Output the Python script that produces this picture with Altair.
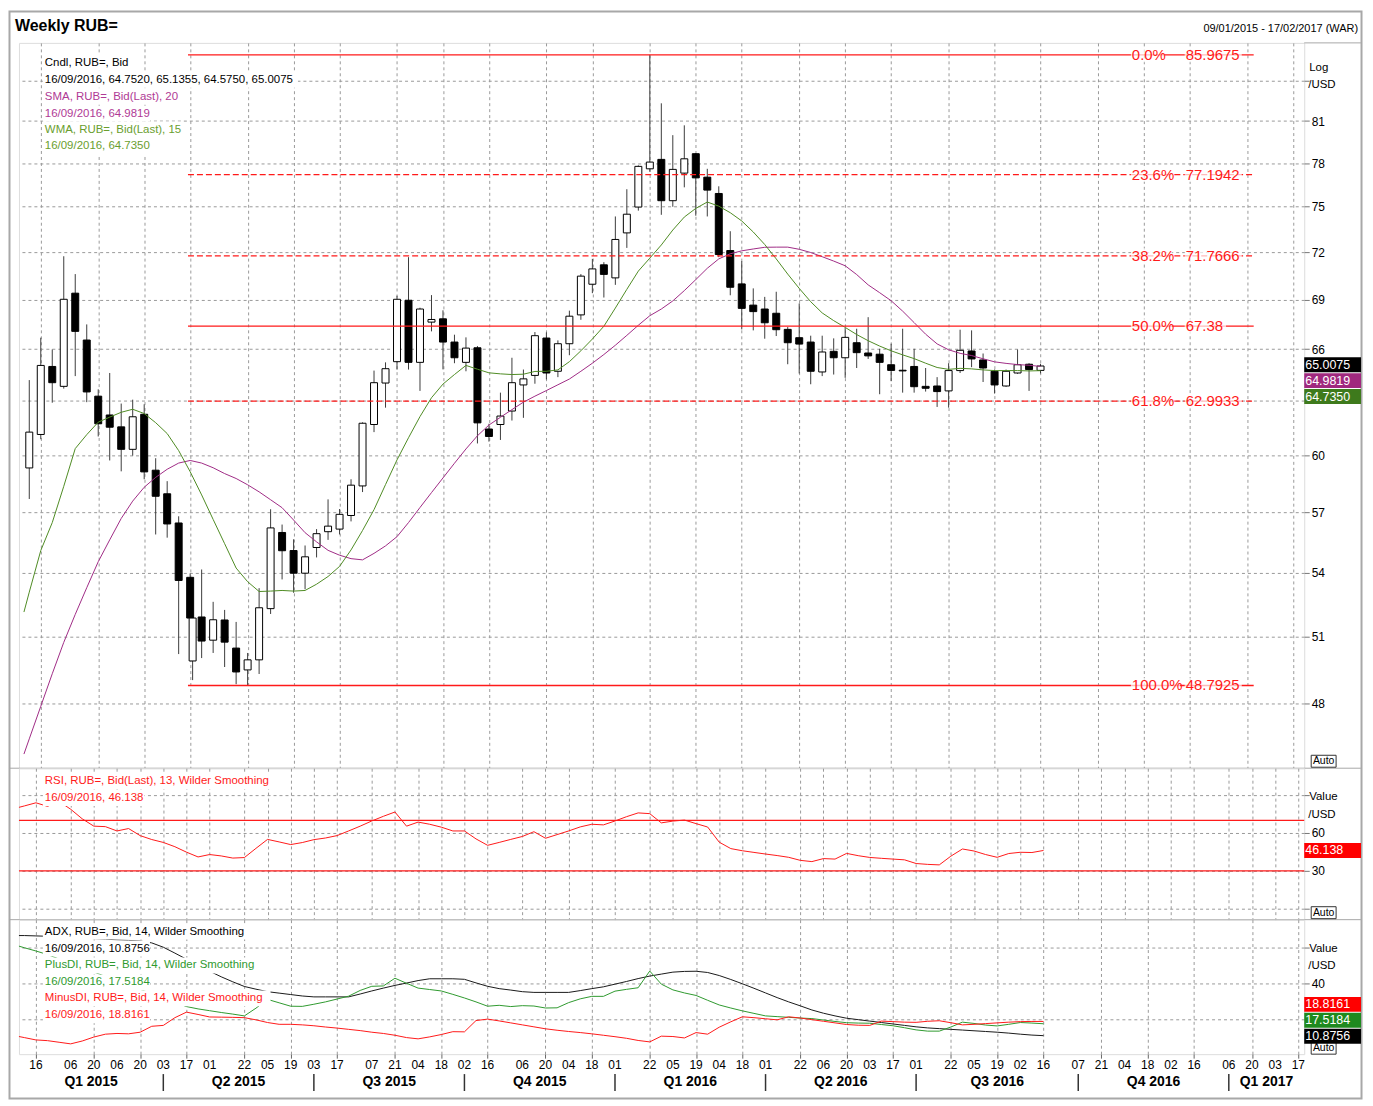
import altair as alt
import pandas as pd

FONT = "Liberation Sans Narrow, Arial Narrow, Liberation Sans, Arial, sans-serif"
BOLD = "Liberation Sans, Arial, sans-serif"

# ---------------------------------------------------------------- data
WEEK_FIRST = "2015-01-09"
WEEK_LAST = "2016-09-16"
X_START = "2015-01-05T18:00:00"
X_END = "2017-02-20T14:00:00"

opens = [59.32, 61.13, 64.98, 63.83, 69.40, 66.54, 63.27, 62.21, 61.55, 60.32,
         62.25, 59.20, 57.96, 56.46, 53.77, 51.89, 50.82, 51.75, 50.46, 49.48,
         49.93, 52.28, 55.98, 55.08, 53.97, 55.23, 56.02, 56.15, 56.84, 58.37,
         61.68, 64.02, 65.26, 68.96, 65.22, 67.62, 67.82, 66.42, 65.22, 66.08,
         61.43, 61.68, 62.43, 63.91, 64.46, 66.66, 64.70, 66.32, 68.06, 69.96,
         71.19, 70.36, 73.26, 74.98, 77.60, 78.26, 75.41, 77.30, 78.66, 77.02,
         75.90, 72.11, 69.98, 68.66, 68.42, 68.16, 67.18, 66.68, 66.42, 64.66,
         65.87, 65.49, 66.38, 65.77, 65.70, 65.08, 64.76, 64.98, 63.83, 63.85,
         63.57, 64.74, 65.89, 65.36, 64.70, 63.85, 64.60, 65.11, 64.7520]
highs = [64.19, 66.68, 65.98, 71.74, 70.60, 67.48, 63.66, 64.60, 62.85, 63.07,
         62.81, 59.84, 58.62, 56.80, 53.95, 54.15, 52.60, 52.22, 51.66, 50.24,
         53.25, 57.16, 56.38, 55.64, 55.33, 56.15, 57.67, 57.17, 58.72, 61.80,
         64.74, 65.22, 69.24, 71.68, 68.50, 69.28, 68.34, 66.86, 66.70, 66.18,
         61.72, 63.47, 65.49, 64.80, 67.02, 67.00, 66.52, 68.32, 70.60, 71.57,
         71.36, 74.35, 76.19, 77.84, 85.9675, 82.30, 79.98, 80.69, 78.70, 77.60,
         76.39, 73.37, 71.43, 69.70, 69.17, 69.49, 67.32, 68.76, 66.80, 66.80,
         66.64, 67.26, 67.22, 67.92, 66.02, 66.32, 67.22, 66.02, 64.89, 64.36,
         65.17, 67.16, 67.12, 65.74, 64.80, 64.80, 65.98, 65.17, 65.1355]
lows = [57.69, 60.87, 62.90, 63.70, 64.42, 62.93, 61.02, 59.72, 59.14, 59.98,
        58.72, 55.88, 55.72, 50.19, 51.70, 50.01, 50.24, 49.61, 48.85, 48.7925,
        49.30, 52.03, 53.67, 53.03, 53.20, 54.74, 55.61, 55.88, 56.54, 58.05,
        61.26, 62.62, 64.80, 64.80, 63.57, 67.06, 64.81, 65.17, 64.70, 60.64,
        60.74, 60.83, 61.90, 62.05, 63.98, 64.23, 64.36, 65.64, 67.76, 69.40,
        69.13, 69.92, 72.28, 74.74, 77.40, 74.46, 75.00, 76.32, 74.40, 74.35,
        71.68, 69.27, 67.18, 67.12, 66.62, 66.78, 65.11, 64.57, 63.95, 64.42,
        64.51, 64.32, 64.89, 65.42, 63.38, 64.13, 63.47, 63.47, 63.53, 62.66,
        62.62, 64.60, 64.94, 64.08, 63.42, 63.80, 64.55, 63.57, 64.5750]
closes = [61.26, 65.04, 64.04, 69.02, 67.06, 63.51, 61.72, 61.53, 60.32, 62.11,
          59.11, 57.83, 56.41, 53.62, 51.84, 50.78, 51.76, 50.73, 49.39, 49.93,
          52.32, 56.21, 55.07, 53.97, 54.77, 55.92, 56.30, 56.90, 58.41, 61.75,
          64.04, 64.85, 69.02, 65.22, 68.42, 67.78, 66.42, 65.49, 66.06, 61.77,
          61.02, 62.15, 64.04, 64.26, 66.80, 64.60, 66.32, 67.98, 70.47, 70.93,
          70.58, 72.83, 74.50, 77.77, 78.07, 75.41, 77.56, 78.30, 76.97, 76.13,
          71.85, 69.77, 68.46, 68.26, 67.58, 67.16, 66.38, 66.30, 64.70, 65.83,
          65.49, 66.70, 65.79, 65.60, 65.22, 64.75, 64.72, 63.81, 63.72, 63.53,
          64.74, 65.93, 65.42, 64.89, 63.91, 64.70, 65.08, 64.80, 65.0075]

# an extra (irregular) bar drawn just after the 17/04/2015 bar
EXTRA_DATE = "2015-04-18T12:00:00"
extra_ohlc = [49.88, 52.08, 49.03, 51.84]

# indicator series: first value at the chart's left edge, then one per week
sma20 = [45.88, 46.51, 47.89, 49.31, 50.72, 52.01, 53.27, 54.53, 55.61, 56.69,
         57.58, 58.30, 58.82, 59.25, 59.58, 59.72, 59.58, 59.33, 59.02, 58.76,
         58.43, 58.06, 57.65, 57.24, 56.61, 55.97, 55.51, 55.09, 54.85, 54.68,
         54.62, 54.94, 55.31, 55.77, 56.48, 57.25, 58.02, 58.79, 59.57, 60.34,
         61.06, 61.65, 62.08, 62.51, 62.93, 63.27, 63.59, 63.92, 64.25, 64.70,
         65.17, 65.68, 66.23, 66.82, 67.43, 68.01, 68.42, 68.92, 69.56, 70.25,
         70.97, 71.57, 71.90, 72.09, 72.21, 72.32, 72.33, 72.33, 72.19, 71.98,
         71.71, 71.43, 71.13, 70.57, 69.92, 69.43, 68.93, 68.29, 67.59, 66.89,
         66.31, 65.96, 65.75, 65.62, 65.43, 65.25, 65.16, 65.09, 65.05, 64.9819]
wma15 = [52.12, 53.06, 55.08, 56.48, 58.35, 60.36, 61.12, 61.81, 62.09, 62.36,
         62.53, 62.29, 61.78, 61.18, 60.25, 59.12, 57.90, 56.64, 55.42, 54.22,
         53.56, 53.09, 53.11, 53.14, 53.11, 53.14, 53.44, 53.81, 54.30, 55.11,
         56.08, 57.14, 58.44, 59.75, 60.95, 62.12, 63.18, 63.96, 64.51, 65.04,
         64.82, 64.61, 64.55, 64.51, 64.53, 64.69, 64.70, 64.78, 65.26, 65.90,
         66.60, 67.37, 68.48, 69.64, 70.79, 71.62, 72.47, 73.45, 74.31, 74.89,
         75.32, 75.04, 74.60, 74.05, 73.32, 72.50, 71.57, 70.60, 69.70, 68.87,
         68.18, 67.71, 67.30, 66.87, 66.50, 66.18, 65.90, 65.66, 65.44, 65.17,
         64.92, 64.81, 64.87, 64.84, 64.78, 64.74, 64.74, 64.74, 64.72, 64.735]
rsi13 = [80.3, 81.4, 83.9, 81.1, 85.0, 78.8, 71.2, 65.4, 65.0, 61.6,
         63.5, 57.9, 54.8, 52.5, 49.1, 44.8, 41.0, 42.9, 41.8, 40.1,
         40.5, 47.8, 54.9, 52.9, 50.8, 52.4, 54.7, 56.0, 57.9, 61.6,
         65.4, 69.5, 73.2, 76.6, 65.4, 68.6, 66.9, 64.6, 61.6, 61.6,
         55.3, 50.2, 52.5, 54.9, 57.2, 61.0, 55.8, 58.7, 61.6, 64.8,
         66.9, 66.4, 69.5, 72.9, 75.9, 75.3, 68.0, 69.4, 70.2, 67.4,
         64.7, 52.7, 47.6, 45.9, 44.6, 43.3, 42.1, 40.7, 38.3, 37.3,
         39.7, 39.3, 43.8, 42.0, 40.6, 39.9, 39.3, 38.7, 35.8, 35.1,
         34.7, 41.6, 47.3, 45.7, 42.9, 40.7, 43.7, 44.7, 44.5, 46.138]
adx14 = [66.7, 66.7, 66.5, 66.3, 66.0, 65.6, 65.3, 65.0, 64.7, 64.3,
         64.0, 63.7, 62.6, 60.2, 56.9, 53.5, 50.1, 46.8, 43.7, 40.9,
         38.3, 36.8, 35.4, 34.6, 33.8, 33.0, 32.5, 32.5, 32.5, 32.5,
         34.1, 35.8, 37.4, 38.9, 40.2, 41.6, 42.6, 42.6, 42.6, 42.3,
         40.3, 38.4, 37.1, 36.3, 35.4, 35.0, 35.0, 35.0, 35.0, 36.0,
         37.1, 38.1, 39.6, 41.1, 42.7, 44.1, 45.2, 46.3, 46.7, 46.8,
         46.1, 44.4, 42.2, 39.8, 37.3, 34.7, 32.1, 29.7, 27.5, 25.2,
         23.4, 21.9, 20.6, 19.8, 19.0, 18.2, 17.4, 16.6, 15.8, 15.2,
         14.8, 14.4, 14.0, 13.6, 13.2, 12.8, 12.3, 11.7, 11.2, 10.8756]
plus_di = [60.8, 59.9, 58.1, 56.1, 53.6, 51.2, 48.8, 46.4, 43.9, 41.6,
           39.1, 36.7, 34.3, 31.9, 29.4, 27.1, 25.8, 24.8, 23.8, 22.9,
           21.9, 26.2, 31.1, 29.2, 27.3, 27.2, 28.4, 29.7, 31.3, 32.9,
           36.1, 38.4, 38.6, 42.9, 40.1, 37.4, 36.6, 35.8, 33.9, 31.9,
           29.7, 27.3, 27.8, 27.1, 27.6, 27.4, 26.3, 26.4, 29.3, 31.4,
           32.8, 32.8, 35.7, 36.7, 37.6, 46.9, 39.6, 36.4, 34.7, 33.3,
           30.6, 28.0, 26.3, 24.7, 23.3, 21.9, 21.5, 21.1, 20.7, 20.4,
           19.6, 18.8, 18.1, 17.9, 17.8, 17.1, 16.4, 15.3, 14.1, 13.4,
           13.4, 15.7, 18.4, 17.7, 16.8, 16.3, 17.2, 18.2, 17.9, 17.5184]
minus_di = [10.4, 9.8, 8.5, 8.1, 7.2, 6.3, 7.9, 10.1, 11.7, 12.1,
            11.9, 12.8, 16.1, 16.6, 20.9, 24.0, 22.7, 21.3, 21.2, 21.1,
            20.9, 19.7, 18.2, 17.2, 17.2, 16.9, 16.4, 15.7, 15.1, 14.4,
            13.7, 12.8, 12.1, 11.1, 9.8, 9.1, 10.2, 11.5, 13.1, 13.0,
            19.3, 20.1, 19.1, 18.0, 16.9, 15.8, 14.7, 13.9, 13.2, 12.6,
            11.9, 11.1, 10.3, 9.4, 8.2, 7.4, 10.6, 10.4, 9.6, 12.6,
            11.7, 15.6, 18.6, 21.4, 20.9, 20.3, 19.7, 21.4, 20.7, 19.8,
            18.9, 18.0, 17.1, 16.7, 16.6, 19.0, 18.7, 18.4, 18.3, 18.9,
            19.2, 18.1, 16.9, 17.2, 17.6, 18.0, 18.4, 18.7, 18.8, 18.8161]

fib_pcts = ["0.0%", "23.6%", "38.2%", "50.0%", "61.8%", "100.0%"]
fib_levels = [85.9675, 77.1942, 71.7666, 67.38, 62.9933, 48.7925]
FIB_FROM = "2015-04-15T16:00:00"
FIB_TO = "2017-01-23T20:00:00"

price_ticks = [48, 51, 54, 57, 60, 63, 66, 69, 72, 75, 78, 81, 84]
rsi_ticks = [0, 30, 60, 90]
rsi_bands = [70, 30]
adx_ticks = [20, 40, 60]

date_ticks = ["2015-01-16", "2015-02-06", "2015-02-20", "2015-03-06", "2015-03-20",
              "2015-04-03", "2015-04-17", "2015-05-01", "2015-05-22", "2015-06-05",
              "2015-06-19", "2015-07-03", "2015-07-17", "2015-08-07", "2015-08-21",
              "2015-09-04", "2015-09-18", "2015-10-02", "2015-10-16", "2015-11-06",
              "2015-11-20", "2015-12-04", "2015-12-18", "2016-01-01", "2016-01-22",
              "2016-02-05", "2016-02-19", "2016-03-04", "2016-03-18", "2016-04-01",
              "2016-04-22", "2016-05-06", "2016-05-20", "2016-06-03", "2016-06-17",
              "2016-07-01", "2016-07-22", "2016-08-05", "2016-08-19", "2016-09-02",
              "2016-09-16", "2016-10-07", "2016-10-21", "2016-11-04", "2016-11-18",
              "2016-12-02", "2016-12-16", "2017-01-06", "2017-01-20", "2017-02-03",
              "2017-02-17"]
quarter_names = ["Q1 2015", "Q2 2015", "Q3 2015", "Q4 2015", "Q1 2016",
                 "Q2 2016", "Q3 2016", "Q4 2016", "Q1 2017"]
quarter_starts = ["2015-04-03", "2015-07-03", "2015-10-02", "2016-01-01",
                  "2016-04-01", "2016-07-01", "2016-10-07", "2017-01-06"]

# ---------------------------------------------------------------- styles
W, H1, H2, H3 = 1290, 728, 152, 135
GRID = "#9a9a9a"
RED = "#ff1a1a"
SMA_C = "#a02c86"
WMA_C = "#4f8c24"
SMA_TXT = "#b03a95"
WMA_TXT = "#6a9e2e"
PDI_C = "#2f9a2f"
FRAME = "#a8a8a8"
FIB_DASHED = {"23.6%", "38.2%", "61.8%"}
LEG_SIZE = 11.5


def ts(s):
    t = pd.Timestamp(s)
    if t.tzinfo is None:
        t = t.tz_localize("UTC")
    return int(t.value // 10**6)


xdom = [ts(X_START), ts(X_END)]
weeks = [ts(d) for d in pd.date_range(WEEK_FIRST, WEEK_LAST, freq="7D")]
line_t = [xdom[0]] + weeks

cdf = pd.DataFrame({"t": weeks, "open": opens, "high": highs, "low": lows, "close": closes})
cdf = pd.concat([cdf, pd.DataFrame({"t": [ts(EXTRA_DATE)], "open": [extra_ohlc[0]],
                                    "high": [extra_ohlc[1]], "low": [extra_ohlc[2]],
                                    "close": [extra_ohlc[3]]})]).sort_values("t")
ldf = pd.DataFrame({"t": line_t, "sma": sma20, "wma": wma15, "rsi": rsi13,
                    "adx": adx14, "pdi": plus_di, "mdi": minus_di})
fdf = pd.DataFrame({"level": fib_levels, "pct": fib_pcts,
                    "t0": ts(FIB_FROM), "t1": ts(FIB_TO)})
tick_t = [ts(d) for d in date_ticks]
ddf = pd.DataFrame({"t": tick_t, "lab": [d[-2:] for d in date_ticks]})
qs_t = [ts(d) for d in quarter_starts]
bounds_t = [xdom[0]] + qs_t + [xdom[1]]
qdf = pd.DataFrame({"name": quarter_names,
                    "tc": [(a + b) / 2 for a, b in zip(bounds_t[:-1], bounds_t[1:])]})
sdf = pd.DataFrame({"t": qs_t})

ONE = alt.Data(values=[{}])
xscale = alt.Scale(type="utc", domain=xdom, nice=False)


def xaxis(show_ticks):
    return alt.Axis(values=tick_t, grid=True, gridColor=GRID, gridDash=[3, 3], gridWidth=1,
                    labels=False, ticks=show_ticks, domain=False, title=None,
                    tickSize=4, tickColor="#666")


def yaxis(values, expr):
    return alt.Axis(orient="right", values=values, grid=True, gridColor=GRID,
                    gridDash=[3, 3], gridWidth=1, domain=False, ticks=True, tickSize=5,
                    tickColor="#777", labelFont=FONT, labelFontSize=12,
                    labelColor="black", labelPadding=2, title=None, format="d",
                    labelOverlap=False, labelFlush=False, labelExpr=expr)


def text(txt, x, y, color="black", size=12.0, align="left", font=FONT, weight="normal",
         baseline="middle"):
    return alt.Chart(ONE).mark_text(align=align, baseline=baseline, font=font,
                                    fontSize=size, fontWeight=weight, color=color).encode(
        x=alt.value(x), y=alt.value(y), text=alt.value(txt))


def box(x0, x1, y0, y1, fill="white", stroke=None, sw=1):
    kw = dict(fill=fill)
    if stroke:
        kw.update(stroke=stroke, strokeWidth=sw)
    return alt.Chart(ONE).mark_rect(**kw).encode(
        x=alt.value(x0), x2=alt.value(x1), y=alt.value(y0), y2=alt.value(y1))


def legend(rows, x=26):
    out = []
    for txt, y, col in rows:
        w = len(txt) * 5.5 + 3
        out.append(box(x - 2, x - 2 + w, y - 8, y + 8))
        out.append(text(txt, x, y, col, LEG_SIZE))
    return out


def hline(y, x0=-10, x1=1347, color=FRAME, sw=1):
    return alt.Chart(ONE).mark_rule(color=color, strokeWidth=sw).encode(
        x=alt.value(x0), x2=alt.value(x1), y=alt.value(y))


def valbox(txt, yc, fill, tcolor="white"):
    return [box(W, W + 57, yc - 7.5, yc + 7.5, fill=fill),
            text(txt, W + 1, yc, tcolor, 12.5)]


# ---------------------------------------------------------------- panel 1
y1 = alt.Scale(type="log", domain=[45.30, 86.89], nice=False)
wick = alt.Chart(cdf).mark_rule(color="#3c3c3c", strokeWidth=1).encode(
    x=alt.X("t:T", scale=xscale, axis=xaxis(False)),
    y=alt.Y("low:Q", scale=y1,
            axis=yaxis(price_ticks,
                       "datum.value == 84 || datum.value == 63 ? '' : datum.label")),
    y2="high:Q")
body = alt.Chart(cdf).mark_bar(size=7, stroke="black", strokeWidth=1).encode(
    x="t:T", y="open:Q", y2="close:Q",
    fill=alt.condition("datum.close >= datum.open", alt.value("white"), alt.value("black")))
sma_line = alt.Chart(ldf).mark_line(color=SMA_C, strokeWidth=1).encode(x="t:T", y="sma:Q")
wma_line = alt.Chart(ldf).mark_line(color=WMA_C, strokeWidth=1).encode(x="t:T", y="wma:Q")
fib_solid = alt.Chart(fdf).transform_filter(
    ~alt.FieldOneOfPredicate(field="pct", oneOf=sorted(FIB_DASHED))).mark_rule(
    color=RED, strokeWidth=1.3).encode(x="t0:T", x2="t1:T", y="level:Q")
fib_dash = alt.Chart(fdf).transform_filter(
    alt.FieldOneOfPredicate(field="pct", oneOf=sorted(FIB_DASHED))).mark_rule(
    color=RED, strokeWidth=1.3, strokeDash=[6, 3]).encode(x="t0:T", x2="t1:T", y="level:Q")

fib_labels = []
for lvl, pct in zip(fib_levels, fib_pcts):
    val = f"{lvl:g}"
    for s, x0 in ((pct, 1117), (val, 1171)):
        w = 7.9 * len(s) + 2
        fib_labels.append(alt.Chart(ONE).mark_tick(color="white", thickness=15,
                                                   orient="horizontal").encode(
            x=alt.value(x0 - 1 + w / 2), y=alt.YDatum(lvl, type="quantitative"),
            size=alt.value(w)))
        fib_labels.append(alt.Chart(ONE).mark_text(align="left", baseline="middle",
                                                   font=FONT, fontSize=15, color=RED).encode(
            x=alt.value(x0), y=alt.YDatum(lvl, type="quantitative"), text=alt.value(s)))

leg1 = legend([("Cndl, RUB=, Bid", 20, "black"),
               ("16/09/2016, 64.7520, 65.1355, 64.5750, 65.0075", 37, "black"),
               ("SMA, RUB=, Bid(Last),  20", 54, SMA_TXT),
               ("16/09/2016, 64.9819", 71, SMA_TXT),
               ("WMA, RUB=, Bid(Last),  15", 87, WMA_TXT),
               ("16/09/2016, 64.7350", 104, WMA_TXT)])

p1_extra = [
    alt.Chart(ONE).mark_rect(fillOpacity=0, stroke=FRAME, strokeWidth=2).encode(
        x=alt.value(-9.5), x2=alt.value(1347.5), y=alt.value(-31.5), y2=alt.value(1059.5)),
    text("Weekly RUB=", -4, -12, "black", 16, font=BOLD, weight="bold", baseline="alphabetic"),
    text("09/01/2015 - 17/02/2017 (WAR)", 1344, -14, "black", 11, align="right"),
    hline(0, W, 1347), hline(H1),
    text("Log", 1295, 25, "black", 11.5), text("/USD", 1294, 42, "black", 11.5),
    box(1297, 1322, 715, 727, fill="white", stroke="#333"),
    text("Auto", 1309.5, 721, "black", 10.5, align="center"),
]
p1_extra += valbox("65.0075", 323, "#000000")
p1_extra += valbox("64.9819", 339, "#a0287e")
p1_extra += valbox("64.7350", 355, "#3e7a1c")

p1 = alt.layer(wick, body, sma_line, wma_line, fib_solid, fib_dash, *fib_labels, *leg1,
               *p1_extra).properties(width=W, height=H1)

# ---------------------------------------------------------------- panel 2 (RSI)
y2s = alt.Scale(domain=[-8.7, 111.3], nice=False, zero=False)
rsi_line = alt.Chart(ldf).mark_line(color=RED, strokeWidth=1).encode(
    x=alt.X("t:T", scale=xscale, axis=xaxis(False)),
    y=alt.Y("rsi:Q", scale=y2s,
            axis=yaxis(rsi_ticks, "datum.value == 30 || datum.value == 60 ? datum.label : ''")))
rsi_rules = [alt.Chart(ONE).mark_rule(color=RED, strokeWidth=1.2).encode(
    y=alt.YDatum(v, type="quantitative")) for v in rsi_bands]
leg2 = legend([("RSI, RUB=, Bid(Last),  13, Wilder Smoothing", 13, RED),
               ("16/09/2016, 46.138", 30, RED)])
p2_extra = [hline(H2), text("Value", 1295, 29, "black", 11.5),
            text("/USD", 1294, 47, "black", 11.5),
            box(1297, 1322, 139, 151, fill="white", stroke="#333"),
            text("Auto", 1309.5, 145, "black", 10.5, align="center")]
p2_extra += valbox("46.138", 82.5, "#ff0000")
p2 = alt.layer(rsi_line, *rsi_rules, *leg2, *p2_extra).properties(width=W, height=H2)

# ---------------------------------------------------------------- panel 3 (ADX)
y3s = alt.Scale(domain=[0.56, 75.56], nice=False, zero=False)
adx_line = alt.Chart(ldf).mark_line(color="#1a1a1a", strokeWidth=1).encode(
    x=alt.X("t:T", scale=xscale, axis=xaxis(True)),
    y=alt.Y("adx:Q", scale=y3s, axis=yaxis(adx_ticks, "datum.value == 40 ? datum.label : ''")))
pdi_line = alt.Chart(ldf).mark_line(color=PDI_C, strokeWidth=1).encode(x="t:T", y="pdi:Q")
mdi_line = alt.Chart(ldf).mark_line(color=RED, strokeWidth=1).encode(x="t:T", y="mdi:Q")
leg3 = legend([("ADX, RUB=, Bid,  14, Wilder Smoothing", 12, "black"),
               ("16/09/2016, 10.8756", 29, "black"),
               ("PlusDI, RUB=, Bid,  14, Wilder Smoothing", 46, PDI_C),
               ("16/09/2016, 17.5184", 63, PDI_C),
               ("MinusDI, RUB=, Bid,  14, Wilder Smoothing", 79, RED),
               ("16/09/2016, 18.8161", 96, RED)])
dtext = alt.Chart(ddf).mark_text(font=FONT, fontSize=12, baseline="middle",
                                 color="black").encode(x="t:T", y=alt.value(H3 + 11),
                                                       text="lab:N")
qtext = alt.Chart(qdf).mark_text(font=FONT, fontSize=14, fontWeight="bold", baseline="middle",
                                 color="black").encode(x="tc:T", y=alt.value(163), text="name:N")
qsep = alt.Chart(sdf).mark_rule(color="#333", strokeWidth=1.5).encode(
    x="t:T", y=alt.value(155), y2=alt.value(172))
p3_extra = [text("Value", 1295, 29, "black", 11.5), text("/USD", 1294, 47, "black", 11.5),
            box(1297, 1322, 123, 135, fill="white", stroke="#333"),
            text("Auto", 1309.5, 129, "black", 10.5, align="center")]
p3_extra += valbox("18.8161", 85, "#ff0000")
p3_extra += valbox("17.5184", 101, "#1f8a1f")
p3_extra += valbox("10.8756", 117, "#000000")
p3 = alt.layer(adx_line, pdi_line, mdi_line, *leg3, dtext, qtext, qsep, *p3_extra).properties(
    width=W, height=H3)

chart = alt.vconcat(p1, p2, p3, spacing=0, bounds="flush").properties(
    padding={"left": 0, "top": 0, "right": 2, "bottom": 2}
).configure_view(stroke="#a0a0a0", strokeWidth=1).configure(font=FONT, background="white")

chart.save("out.html", embed_options={"renderer": "svg", "actions": False})
